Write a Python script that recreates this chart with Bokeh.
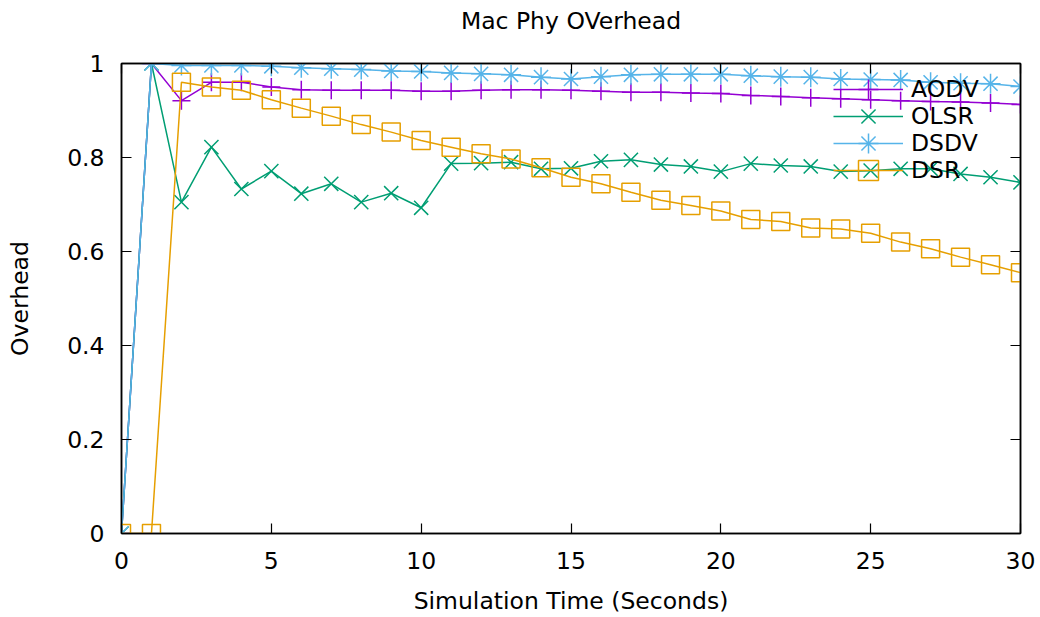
from bokeh.plotting import figure
from bokeh.models import LinearAxis, Legend, LegendItem, Range1d, FixedTicker
from bokeh.embed import file_html
from bokeh.resources import INLINE

# ---- data ----
time_s = list(range(31))
aodv = [0, 1, 0.921, 0.96, 0.96, 0.95, 0.944, 0.943, 0.943, 0.943, 0.941,
        0.941, 0.943, 0.944, 0.944, 0.943, 0.941, 0.939, 0.939, 0.937, 0.936,
        0.932, 0.930, 0.927, 0.925, 0.923, 0.921, 0.919, 0.918, 0.916, 0.913]
olsr = [0, 1, 0.705, 0.822, 0.733, 0.771, 0.723, 0.744, 0.705, 0.724, 0.693,
        0.787, 0.788, 0.790, 0.776, 0.777, 0.792, 0.795, 0.785, 0.781, 0.770,
        0.787, 0.783, 0.781, 0.770, 0.772, 0.776, 0.776, 0.765, 0.758, 0.747]
dsdv = [0, 1, 0.996, 0.996, 0.996, 0.994, 0.991, 0.989, 0.987, 0.984, 0.983,
        0.980, 0.978, 0.976, 0.971, 0.967, 0.972, 0.976, 0.977, 0.977, 0.977,
        0.974, 0.972, 0.971, 0.967, 0.966, 0.965, 0.960, 0.958, 0.957, 0.951]
dsr = [0, 0, 0.960, 0.950, 0.943, 0.923, 0.905, 0.888, 0.870, 0.854, 0.836,
       0.822, 0.808, 0.797, 0.778, 0.758, 0.744, 0.726, 0.709, 0.698, 0.686,
       0.668, 0.664, 0.650, 0.648, 0.639, 0.620, 0.606, 0.588, 0.572, 0.555]
series_names = ["AODV", "OLSR", "DSDV", "DSR"]
x_ticks = [0, 5, 10, 15, 20, 25, 30]
y_ticks = [0, 0.2, 0.4, 0.6, 0.8, 1]
y_tick_labels = ["0", "0.2", "0.4", "0.6", "0.8", "1"]
title_text = "Mac Phy OVerhead"

FONT = "DejaVu Sans"
FS = "23.5px"

p = figure(width=1040, height=617, output_backend="svg", toolbar_location=None,
           x_range=Range1d(0, 30), y_range=Range1d(0, 1),
           min_border_left=121, min_border_right=20, min_border_top=63,
           min_border_bottom=84)
p.background_fill_color = "white"
p.border_fill_color = "white"
p.outline_line_color = "black"
p.outline_line_width = 1.5
p.xgrid.visible = False
p.ygrid.visible = False

xa = p.xaxis[0]
ya = p.yaxis[0]
xa.ticker = FixedTicker(ticks=x_ticks)
ya.ticker = FixedTicker(ticks=y_ticks)
ya.major_label_overrides = dict(zip(y_ticks, y_tick_labels))
xa.axis_label = "Simulation Time (Seconds)"
ya.axis_label = "Overhead"

# mirrored ticks (top axis also carries the chart title, gnuplot-style)
top = LinearAxis(ticker=FixedTicker(ticks=x_ticks))
right = LinearAxis(ticker=FixedTicker(ticks=y_ticks))
top.axis_label = title_text

for ax in (xa, ya, top, right):
    ax.major_tick_in = 10
    ax.major_tick_out = 0
    ax.minor_tick_line_color = None
    ax.major_tick_line_color = "black"
    ax.major_tick_line_width = 1.2
    ax.axis_line_color = "black"
    ax.axis_line_width = 1.5
    ax.axis_label_text_font = FONT
    ax.axis_label_text_font_size = FS
    ax.axis_label_text_font_style = "normal"
    ax.axis_label_text_color = "black"
for ax in (xa, ya):
    ax.major_label_text_font = FONT
    ax.major_label_text_font_size = FS
    ax.major_label_text_color = "black"
for ax in (top, right):
    ax.major_label_text_color = None
    ax.major_label_text_font_size = "0px"
    ax.major_label_standoff = 0

xa.major_label_standoff = 18
xa.axis_label_standoff = 15
ya.major_label_standoff = 17
ya.axis_label_standoff = 30
top.axis_label_standoff = 29

p.add_layout(top, "above")
p.add_layout(right, "right")

colors = ["#9400D3", "#009E73", "#56B4E9", "#E69F00"]
markers = ["cross", "x", "asterisk", "square"]
sizes = [18, 20, 20, 18]
values = [aodv, olsr, dsdv, dsr]

# one legend per entry so rows sit 27px apart with full-size markers
legend_bottoms = [419, 392, 365, 338]
for name, ys, color, marker, sz, lb in zip(series_names, values, colors,
                                            markers, sizes, legend_bottoms):
    ln = p.line(time_s, ys, line_color=color, line_width=1.5)
    sc = p.scatter(time_s, ys, marker=marker, size=sz, line_color=color,
                   fill_color=None, line_width=1.5)
    lg = Legend(items=[LegendItem(label=name, renderers=[ln, sc])],
                location=(712, lb))
    lg.label_text_font = FONT
    lg.label_text_font_size = FS
    lg.label_text_color = "black"
    lg.glyph_width = 70
    lg.glyph_height = 50
    lg.label_height = 20
    lg.label_standoff = 8
    lg.padding = 5
    lg.margin = 0
    lg.background_fill_alpha = 0
    lg.border_line_color = None
    p.add_layout(lg)

open("out.html", "w").write(file_html(p, INLINE))
